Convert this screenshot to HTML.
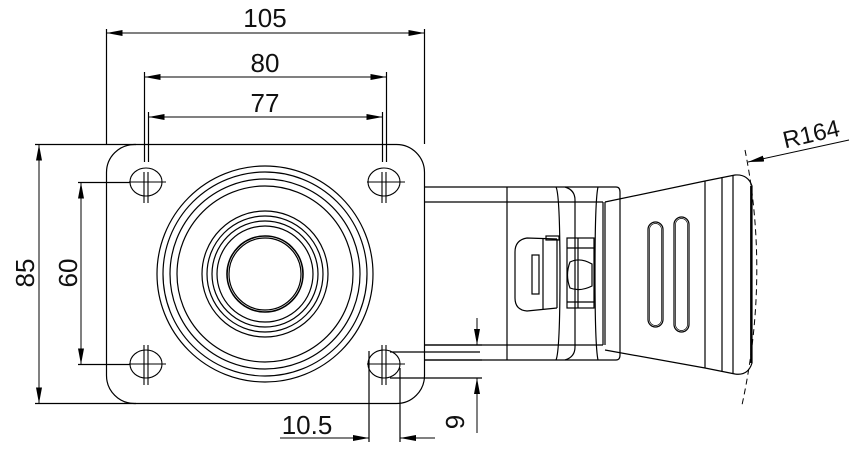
<!DOCTYPE html>
<html><head><meta charset="utf-8"><style>
html,body{margin:0;padding:0;background:#fff;}
svg{display:block}
text{font-family:"Liberation Sans",sans-serif;fill:#111;}
</style></head><body>
<svg width="866" height="458" viewBox="0 0 866 458" xmlns="http://www.w3.org/2000/svg">
<defs>
<marker id="a" viewBox="0 0 16 6" refX="16" refY="3" markerWidth="16" markerHeight="6" markerUnits="userSpaceOnUse" orient="auto-start-reverse"><path d="M0,0 L16,3 L0,6 Z" fill="#000"/></marker>
</defs>
<g fill="none" stroke="#000" stroke-width="1.2">
<rect x="106.5" y="144.5" width="318" height="259" rx="28" ry="28"/>
<g>
<circle cx="265" cy="274" r="108"/><circle cx="265" cy="274" r="102"/>
<circle cx="265" cy="274" r="95"/><circle cx="265" cy="274" r="88"/>
<circle cx="265" cy="274" r="63"/><circle cx="265" cy="274" r="58"/>
<circle cx="265" cy="274" r="53"/><circle cx="265" cy="274" r="48"/>
<circle cx="265" cy="274" r="38" stroke-width="1.6"/><circle cx="265" cy="274" r="36"/>
</g>
<g stroke-width="1.1">
<ellipse cx="146" cy="182" rx="16" ry="14"/><ellipse cx="384" cy="182" rx="16" ry="14"/>
<ellipse cx="146" cy="364" rx="16" ry="14"/><ellipse cx="384" cy="364" rx="16" ry="14"/>
<path d="M129 182H166M367 182H405M129 364H166M367 364H405"/>
<path d="M144 172V203M148 172V203M382 172V203M386 172V203M144 345V385M148 345V385M382 345V385M386 345V385"/>
</g>
<path d="M106.5 29V144M424.5 29V144M144.5 72V162M386.5 72V162M148.5 112V162M382.5 112V162"/>
<path d="M106.5 33H424.5" marker-start="url(#a)" marker-end="url(#a)" stroke-width="1"/>
<path d="M144.5 77H386.5" marker-start="url(#a)" marker-end="url(#a)" stroke-width="1"/>
<path d="M148.5 117H382.5" marker-start="url(#a)" marker-end="url(#a)" stroke-width="1"/>
<path d="M35 144.5H136M35 403.5H136M78 182.5H130M78 364.5H130"/>
<path d="M39 144.5V403.5" marker-start="url(#a)" marker-end="url(#a)" stroke-width="1"/>
<path d="M81 182.5V364.5" marker-start="url(#a)" marker-end="url(#a)" stroke-width="1"/>
<path d="M369 351V442M400 368V442"/>
<path d="M280 438H369" marker-end="url(#a)" stroke-width="1"/>
<path d="M435 438H400" marker-end="url(#a)" stroke-width="1"/>
<path d="M424 345H482M390 352H480M424 360H482M390 378H482"/>
<path d="M477 318V345" marker-end="url(#a)" stroke-width="1"/>
<path d="M477 433V378" marker-end="url(#a)" stroke-width="1"/>
<path d="M424 187H616Q620 187 620 192V355Q620 360 616 360H424"/>
<path d="M424 202H603M424 345H603"/>
<path d="M507 187V360"/>
<path d="M556 187Q560 195 560 273Q560 351 556 360"/>
<path d="M565 187Q575 190 575 200V347Q575 357 565 360"/>
<path d="M598 187Q595 200 595 273Q595 346 598 360"/>
<path d="M603 202V345M605 202V345"/>
<path d="M605 202L705 181L735 175Q748 174 752 186V363Q748 376 735 374L705 368L605 350"/>
<path d="M705 181V368M722 177V371M733 175V374"/>
<path d="M751 186V363" stroke-width="1.8"/>
<rect x="648" y="222" width="15" height="105" rx="7.5"/>
<rect x="649.5" y="223.5" width="12" height="102" rx="6" stroke-width="0.7"/>
<rect x="674" y="217" width="15" height="115" rx="7.5"/>
<rect x="675.5" y="218.5" width="12" height="112" rx="6" stroke-width="0.7"/>
<path d="M557 239L527 238Q515 240 515 252V298Q515 310 527 311L557 308"/>
<path d="M543 239V309M557 239V308"/>
<rect x="532" y="255" width="7" height="39"/>
<rect x="546" y="236" width="13" height="4"/>
<rect x="567" y="238" width="27" height="70"/>
<path d="M567 248H594M567 302H594M578 238V308"/>
<path d="M570 262Q580 257 592 264V286Q580 292 570 288Q565 275 570 262Z"/>
<path d="M745 150Q770 275 742 405" stroke-dasharray="6,4" stroke-width="1"/>
<path d="M849 140L748 162" marker-end="url(#a)" stroke-width="1"/>
</g>
<text x="265" y="27" font-size="26" text-anchor="middle">105</text>
<text x="265" y="72" font-size="26" text-anchor="middle">80</text>
<text x="265" y="112" font-size="26" text-anchor="middle">77</text>
<text transform="translate(34,273) rotate(-90)" font-size="26" text-anchor="middle">85</text>
<text transform="translate(77,273) rotate(-90)" font-size="26" text-anchor="middle">60</text>
<text x="307" y="434" font-size="26" text-anchor="middle">10.5</text>
<text transform="translate(455,422) rotate(-90)" font-size="26" text-anchor="middle" dominant-baseline="central">9</text>
<text transform="translate(813,142) rotate(-13)" font-size="24" text-anchor="middle">R164</text>
</svg>
</body></html>
